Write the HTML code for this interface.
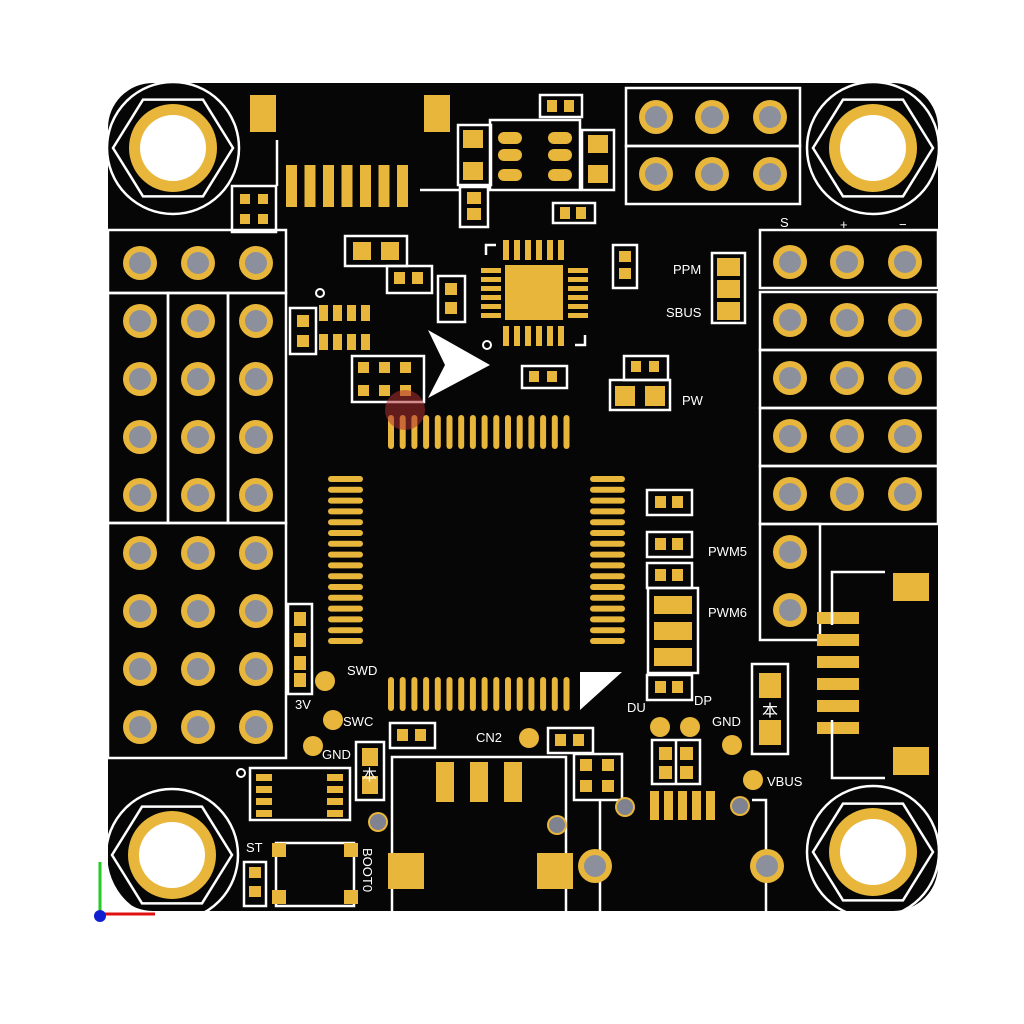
<!DOCTYPE html><html><head><meta charset="utf-8"><style>
html,body{margin:0;padding:0;background:#fff;width:1024px;height:1024px;overflow:hidden}
svg{display:block}
text{font-family:"Liberation Sans",sans-serif;fill:#fff}
</style></head><body>
<svg id="s" width="1024" height="1024" viewBox="0 0 1024 1024" xmlns="http://www.w3.org/2000/svg">
<rect x="108" y="83" width="830" height="828" rx="45" fill="#060606"/>
<g id="g"></g>
<g fill="#fff" font-size="13">
<text x="780" y="227">S</text><text x="840" y="229">+</text><text x="899" y="229">−</text>
<text x="673" y="274">PPM</text><text x="666" y="317">SBUS</text>
<text x="682" y="405">PW</text>
<text x="708" y="556">PWM5</text><text x="708" y="617">PWM6</text>
<text x="627" y="712">DU</text><text x="694" y="705">DP</text><text x="712" y="726">GND</text>
<text x="767" y="786">VBUS</text>
<text x="347" y="675">SWD</text><text x="343" y="726">SWC</text><text x="322" y="759">GND</text>
<text x="295" y="709">3V</text><text x="476" y="742">CN2</text><text x="246" y="852">ST</text>
<text x="0" y="0" transform="translate(363,848) rotate(90)">BOOT0</text>
</g>
<polygon points="428,330 490,365 428,398 445,365" fill="#fff"/>
<polygon points="580,672 622,672 580,710" fill="#fff"/>
<circle cx="405" cy="410" r="20" fill="#b03030" opacity="0.55"/>
<line x1="100" y1="914" x2="100" y2="862" stroke="#22cc22" stroke-width="3"/>
<line x1="100" y1="914" x2="155" y2="914" stroke="#e01010" stroke-width="3"/>
<circle cx="100" cy="916" r="6" fill="#1020d0"/>
</svg>
<script>
const G=document.getElementById('g'),ns='http://www.w3.org/2000/svg',Y='#e9b63c';
function e(t,a){const n=document.createElementNS(ns,t);for(const k in a)n.setAttribute(k,a[k]);G.appendChild(n);return n}
function R(x,y,w,h,f){e('rect',{x,y,width:w,height:h,fill:f||Y})}
function B(x,y,w,h){e('rect',{x,y,width:w,height:h,fill:'none',stroke:'#fff','stroke-width':2.5})}
function L(p){e('polyline',{points:p,fill:'none',stroke:'#fff','stroke-width':2.5})}
function P(x,y){e('circle',{cx:x,cy:y,r:17,fill:Y});e('circle',{cx:x,cy:y,r:11,fill:'#8c8f9c'})}
function H(x,y){let pts=[];for(let i=0;i<6;i++){let a=Math.PI/3*i;pts.push((x+60*Math.cos(a))+','+(y+60*Math.sin(a)*0.93))}
e('polygon',{points:pts.join(' '),fill:'none',stroke:'#fff','stroke-width':2.5});
e('circle',{cx:x,cy:y,r:66,fill:'none',stroke:'#fff','stroke-width':2.5});
e('circle',{cx:x,cy:y,r:44,fill:Y});e('circle',{cx:x,cy:y,r:33,fill:'#fff'})}
H(173,148);H(873,148);H(172,855);H(873,852);
// left headers
B(108,230,178,63);B(108,293,60,230);B(168,293,60,230);B(228,293,58,230);B(108,523,178,235);
[263,321,379,437,495,553,611,669,727].forEach(y=>[140,198,256].forEach(x=>P(x,y)));
// right headers
[230,292,350,408,466].forEach(y=>B(760,y,178,58));B(760,524,60,116);
[262,320,378,436,494].forEach(y=>[790,847,905].forEach(x=>P(x,y)));P(790,552);P(790,610);
// top header
B(626,88,174,58);B(626,146,174,58);[117,174].forEach(y=>[656,712,770].forEach(x=>P(x,y)));
// top left parts
R(250,95,26,37);R(424,95,26,37);
for(let i=0;i<7;i++)R(286+i*18.5,165,11,42);
B(232,186,44,46);R(240,194,10,10);R(258,194,10,10);R(240,214,10,10);R(258,214,10,10);L('277,186 277,140');L('420,190 460,190');
B(458,125,33,60);R(463,130,20,18);R(463,162,20,18);B(490,120,90,70);
[138,155,175].forEach(y=>e('rect',{x:498,y:y-6,width:24,height:12,rx:6,fill:Y}));[138,155,175].forEach(y=>e('rect',{x:548,y:y-6,width:24,height:12,rx:6,fill:Y}));
B(540,95,42,22);R(547,100,10,12);R(564,100,10,12);
B(582,130,32,60);R(588,135,20,18);R(588,165,20,18);
B(460,187,28,40);R(467,192,14,12);R(467,208,14,12);
B(553,203,42,20);R(560,207,10,12);R(576,207,10,12);
B(345,236,62,30);R(353,242,18,18);R(381,242,18,18);B(387,266,45,27);R(394,272,11,12);R(412,272,11,12);
B(438,276,27,46);R(445,283,12,12);R(445,302,12,12);
e('circle',{cx:320,cy:293,r:4,fill:'none',stroke:'#fff','stroke-width':2});
B(290,308,26,46);R(297,315,12,12);R(297,335,12,12);
for(let i=0;i<4;i++){R(319+i*14,305,9,16);R(319+i*14,334,9,16)}
B(352,356,72,46);for(let i=0;i<3;i++){R(358+i*21,362,11,11);R(358+i*21,385,11,11)}
// QFN
R(505,265,58,55);for(let i=0;i<6;i++){R(503+i*11,240,6,20);R(503+i*11,326,6,20);R(481,268+i*9,20,5);R(568,268+i*9,20,5)}
L('486,255 486,245 496,245');L('575,345 585,345 585,335');
e('circle',{cx:487,cy:345,r:4,fill:'none',stroke:'#fff','stroke-width':2});
B(522,366,45,22);R(529,371,10,11);R(547,371,10,11);
B(613,245,24,43);R(619,251,12,11);R(619,268,12,11);
B(712,253,33,70);R(717,258,23,18);R(717,280,23,18);R(717,302,23,18);
B(624,356,44,24);R(631,361,10,11);R(649,361,10,11);B(610,380,60,30);R(615,386,20,20);R(645,386,20,20);
// QFP
for(let i=0;i<16;i++){e('rect',{x:388+i*11.7,y:415,width:6,height:34,rx:3,fill:Y});e('rect',{x:388+i*11.7,y:677,width:6,height:34,rx:3,fill:Y})}
for(let i=0;i<16;i++){e('rect',{x:328,y:476+i*10.8,width:35,height:6,rx:3,fill:Y});e('rect',{x:590,y:476+i*10.8,width:35,height:6,rx:3,fill:Y})}
// right of qfp
[[647,490],[647,532],[647,563],[647,675]].forEach(([x,y])=>{B(x,y,45,25);R(x+8,y+6,11,12);R(x+25,y+6,11,12)});
B(648,588,50,85);[596,622,648].forEach(y=>R(654,y,38,18));
B(752,664,36,90);R(759,673,22,25);R(759,720,22,25);e('text',{x:762,y:716,'font-size':16}).textContent='本';
R(817,612,42,12);R(817,634,42,12);R(817,656,42,12);R(817,678,42,12);R(817,700,42,12);R(817,722,42,12);
L('832,625 832,572 885,572');L('832,720 832,778 885,778');R(893,573,36,28);R(893,747,36,28);
// bottom area
[[325,681],[333,720],[313,746],[529,738],[660,727],[690,727],[732,745],[753,780]].forEach(([x,y])=>e('circle',{cx:x,cy:y,r:10,fill:Y}));
B(288,604,24,90);R(294,612,12,14);R(294,633,12,14);R(294,656,12,14);R(294,673,12,14);
B(390,723,45,25);R(397,729,11,12);R(415,729,11,12);
B(548,728,45,25);R(555,734,11,12);R(573,734,11,12);
B(356,742,28,58);R(362,748,16,18);R(362,776,16,18);e('text',{x:362,y:780,'font-size':15}).textContent='本';
B(250,768,100,52);for(let i=0;i<4;i++){R(256,774+i*12,16,7);R(327,774+i*12,16,7)}
e('circle',{cx:241,cy:773,r:4,fill:'none',stroke:'#fff','stroke-width':2});
B(276,843,78,63);R(272,843,14,14);R(344,843,14,14);R(272,890,14,14);R(344,890,14,14);
B(244,862,22,44);R(249,867,12,11);R(249,886,12,11);
L('392,913 392,757 566,757 566,913');R(436,762,18,40);R(470,762,18,40);R(504,762,18,40);
R(388,853,36,36);R(537,853,36,36);
B(574,754,48,46);R(580,759,12,12);R(602,759,12,12);R(580,780,12,12);R(602,780,12,12);L('600,800 600,913');
B(652,740,48,44);R(659,747,13,13);R(680,747,13,13);R(659,766,13,13);R(680,766,13,13);L('676,740 676,784');
for(let i=0;i<5;i++)R(650+i*14,791,9,29);
L('752,800 766,800 766,913');
[[378,822],[557,825],[625,807],[740,806]].forEach(([x,y])=>{e('circle',{cx:x,cy:y,r:10,fill:Y});e('circle',{cx:x,cy:y,r:8,fill:'#7f8290'})});
[[595,866],[767,866]].forEach(([x,y])=>P(x,y));
</script>
</body></html>
